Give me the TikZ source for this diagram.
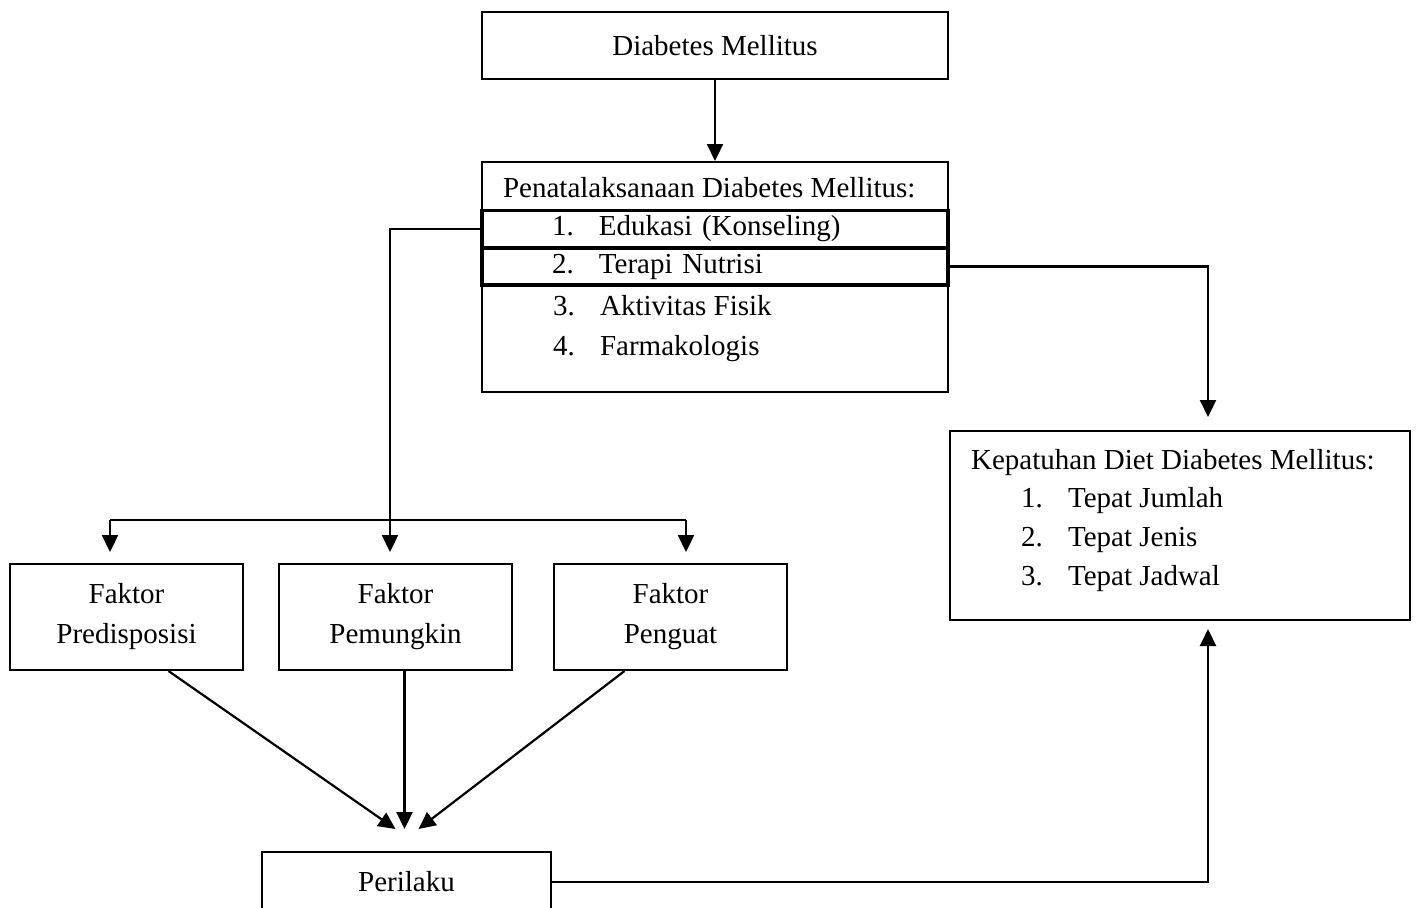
\documentclass[tikz,border=0pt]{standalone}
\usepackage{fontspec}
\setmainfont{Liberation Serif}
\usetikzlibrary{arrows.meta,calc,positioning}
\tikzset{%
        >={Triangle[length=8.5pt,width=8pt]},
        every node/.style={font=\fontsize{14.5pt}{20pt}\selectfont}
}
\tikzstyle{kotak}=[
    draw = black,
    line width = 1pt,
    inner sep = 0pt,
    align = center
]
\tikzstyle{butir}=[
    inner sep = 0pt,
    inner xsep = 35pt,
    text width = 163pt,
    minimum height = 18.5pt,
    align = left
]
\tikzstyle{baris}=[
    butir,
    draw = black,
    line width = 1.8pt
]
\tikzstyle{teks}=[
    inner sep = 0pt,
    anchor = base west
]
\newcommand{\nom}[1]{\makebox[23.5pt][l]{#1}}

\begin{document}
\begin{tikzpicture}[x=0.5pt, y=-0.5pt, line width=1.1pt]
        \useasboundingbox (0,0) rectangle (1418,907);
        % boxes
        \node[kotak, minimum width=233pt, minimum height=33.5pt] (dm) at (715,45.5) {Diabetes Mellitus};
        \node[kotak, minimum width=233pt, minimum height=115pt] (pena) at (715,277) {};
        \node[teks] (penajudul) at (502,197) {Penatalaksanaan Diabetes Mellitus:};
        \node[baris] (edukasi) at (715,229) {\nom{1.}Edukasi (Konseling)};
        \node[baris] (nutrisi) at (715,266.5) {\nom{2.}Terapi Nutrisi};
        \node[teks] (fisik) at (552,315) {\nom{3.}Aktivitas Fisik};
        \node[teks] (farmako) at (552,355) {\nom{4.}Farmakologis};
        \node[kotak, minimum width=230pt, minimum height=94.5pt] (kepatuhan) at (1180,525.5) {};
        \node[teks] (kepjudul) at (970,469) {Kepatuhan Diet Diabetes Mellitus:};
        \node[teks] (jumlah) at (1020,507) {\nom{1.}Tepat Jumlah};
        \node[teks] (jenis) at (1020,546) {\nom{2.}Tepat Jenis};
        \node[teks] (jadwal) at (1020,585) {\nom{3.}Tepat Jadwal};
        \node[kotak, minimum width=116.5pt, minimum height=53pt] (predisposisi) at (126.5,617) {Faktor\\Predisposisi};
        \node[kotak, minimum width=116.5pt, minimum height=53pt] (pemungkin) at (395.5,617) {Faktor\\Pemungkin};
        \node[kotak, minimum width=116.5pt, minimum height=53pt] (penguat) at (670.5,617) {Faktor\\Penguat};
        \node[kotak, minimum width=144.5pt, minimum height=30pt] (perilaku) at (406.5,882) {Perilaku};
        % branch points
        \coordinate (cabang) at (390,520);
        \coordinate (cabangkiri) at (110,520);
        \coordinate (cabangkanan) at (686,520);
        % connectors
        \draw[->] (dm) -- (pena);
        \draw[->, shorten >=5.5pt] (edukasi.west) -| (cabang |- pemungkin.north);
        \draw (cabangkiri) -- (cabangkanan);
        \draw[->, shorten >=5.5pt] (cabangkiri) -- (cabangkiri |- predisposisi.north);
        \draw[->, shorten >=5.5pt] (cabangkanan) -- (cabangkanan |- penguat.north);
        \draw[->, shorten >=6.5pt] (nutrisi.east) -| ($(kepatuhan.north)+(28,0)$);
        \draw[->, shorten >=4pt] (perilaku.east) -| ($(kepatuhan.south)+(28,0)$);
        \path[->]
        ($(predisposisi.south)+(42,0)$)
        edge ($(perilaku.north)+(-11,-22)$)
        ($(pemungkin.south)+(9,0)$)
        edge ($(perilaku.north)+(-2,-22)$)
        ($(penguat.south)+(-46,0)$)
        edge ($(perilaku.north)+(12,-22)$)
        ;
\end{tikzpicture}
\end{document}
